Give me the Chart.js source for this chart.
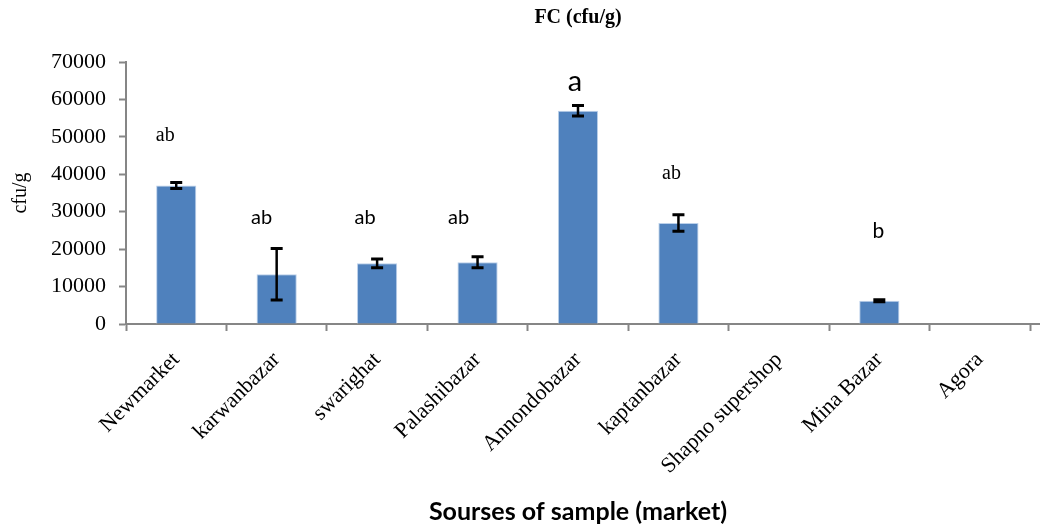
<!DOCTYPE html>
<html>
<head>
<meta charset="utf-8">
<script src="https://cdn.jsdelivr.net/npm/chart.js@4"></script>
<style>
html,body{margin:0;padding:0;background:#fff}
#wrap{width:1040px;height:528px;position:relative}
</style>
</head>
<body>
<div id="wrap"><canvas id="chart"></canvas></div>
<script>
"use strict";

// data
const markets = ["Newmarket", "karwanbazar", "swarighat", "Palashibazar", "Annondobazar", "kaptanbazar", "Shapno supershop", "Mina Bazar", "Agora"];
const fcValues = [37000, 13300, 16200, 16500, 57000, 27000, 0, 6200, 0];
const fcErrors = [800, 6900, 1150, 1500, 1400, 2200, 0, 250, 0];
const groups = ["ab", "ab", "ab", "ab", "a", "ab", "", "b", ""];
const yTicks = [0, 10000, 20000, 30000, 40000, 50000, 60000, 70000];

const serif = "'Liberation Serif', 'Times New Roman', serif";
const sans = "Lato, 'Liberation Sans', sans-serif";

// error bars drawn through the scales
const errorBars = {
	id: "errorBars",
	afterDatasetsDraw(chart) {
		const ctx = chart.ctx;
		const y = chart.scales.y;
		const meta = chart.getDatasetMeta(0);
		ctx.save();
		ctx.strokeStyle = "#000";
		for (let i = 0; i < fcValues.length; i++) {
			if (!fcErrors[i]) continue;
			const x = meta.data[i].x;
			const top = y.getPixelForValue(fcValues[i] + fcErrors[i]);
			const bot = y.getPixelForValue(fcValues[i] - fcErrors[i]);
			ctx.lineWidth = 2.5;
			ctx.beginPath();
			ctx.moveTo(x, top);
			ctx.lineTo(x, bot);
			ctx.stroke();
			ctx.lineWidth = 3;
			ctx.beginPath();
			ctx.moveTo(x - 6, top);
			ctx.lineTo(x + 6, top);
			ctx.moveTo(x - 6, bot);
			ctx.lineTo(x + 6, bot);
			ctx.stroke();
		}
		ctx.restore();
	}
};

// significance letters above the bars
const groupLetters = {
	id: "groupLetters",
	afterDatasetsDraw(chart, args, opts) {
		const ctx = chart.ctx;
		const y = chart.scales.y;
		const meta = chart.getDatasetMeta(0);
		ctx.save();
		ctx.fillStyle = "#000";
		ctx.textAlign = "center";
		ctx.textBaseline = "middle";
		for (let i = 0; i < groups.length; i++) {
			if (!groups[i]) continue;
			ctx.font = opts.fonts[i];
			ctx.fillText(groups[i], meta.data[i].x + opts.shifts[i], y.getPixelForValue(opts.heights[i]));
		}
		ctx.restore();
	}
};

// the x axis line runs on to the right edge
const axisTail = {
	id: "axisTail",
	afterDraw(chart) {
		const ctx = chart.ctx;
		const a = chart.chartArea;
		ctx.save();
		ctx.strokeStyle = "#868686";
		ctx.lineWidth = 2;
		ctx.beginPath();
		ctx.moveTo(a.right, a.bottom);
		ctx.lineTo(chart.width, a.bottom);
		ctx.stroke();
		ctx.restore();
	}
};

const canvas = document.getElementById("chart");
new Chart(canvas, {
	type: "bar",
	data: {
		labels: markets,
		datasets: [{
			label: "FC",
			data: fcValues,
			backgroundColor: "#4F81BD",
			borderColor: "#BBD0EA",
			borderWidth: 1,
			barPercentage: 0.4,
			categoryPercentage: 1
		}]
	},
	options: {
		responsive: true,
		maintainAspectRatio: false,
		animation: false,
		layout: { padding: { left: 0, right: 10, top: 0, bottom: 0 } },
		plugins: {
			legend: { display: false },
			tooltip: { enabled: false },
			title: {
				display: true,
				fullSize: false,
				text: "FC (cfu/g)",
				color: "#000",
				font: { family: serif, size: 20, weight: "bold" },
				padding: { top: 6, bottom: 32 }
			},
			groupLetters: {
				heights: [50300, 28350, 28350, 28350, 64800, 40200, 0, 24870, 0],
				shifts: [-11, -15, -12, -19, -3, -7, 0, -1, 0],
				fonts: [
					"20px " + serif, "20px " + sans, "20px " + sans, "20px " + sans,
					"29px " + sans, "20px " + serif, "", "21px " + sans, ""
				]
			}
		},
		scales: {
			x: {
				grid: { drawOnChartArea: false, offset: true, tickLength: 7, tickColor: "#868686", tickWidth: 2 },
				border: { color: "#868686", width: 2 },
				ticks: {
					color: "#000",
					font: { family: serif, size: 22 },
					minRotation: 45,
					maxRotation: 45,
					padding: 16
				},
				title: {
					display: true,
					text: "Sourses of sample (market)",
					color: "#000",
					font: { family: sans, size: 25, weight: "bold" },
					padding: { top: 0, bottom: 1 }
				},
				afterFit(scale) { scale.height = 204; }
			},
			y: {
				min: 0,
				max: 70000,
				grid: { drawOnChartArea: false, tickLength: 7, tickColor: "#868686", tickWidth: 2 },
				border: { color: "#868686", width: 2 },
				ticks: {
					color: "#000",
					font: { family: serif, size: 22 },
					padding: 13,
					callback: v => String(v)
				},
				afterBuildTicks(scale) { scale.ticks = yTicks.map(v => ({ value: v })); },
				title: {
					display: true,
					text: "cfu/g",
					color: "#000",
					font: { family: serif, size: 20 },
					padding: { top: 9, bottom: 0 }
				},
				afterFit(scale) { scale.width = 126; }
			}
		}
	},
	plugins: [errorBars, groupLetters, axisTail]
});
</script>
</body>
</html>
